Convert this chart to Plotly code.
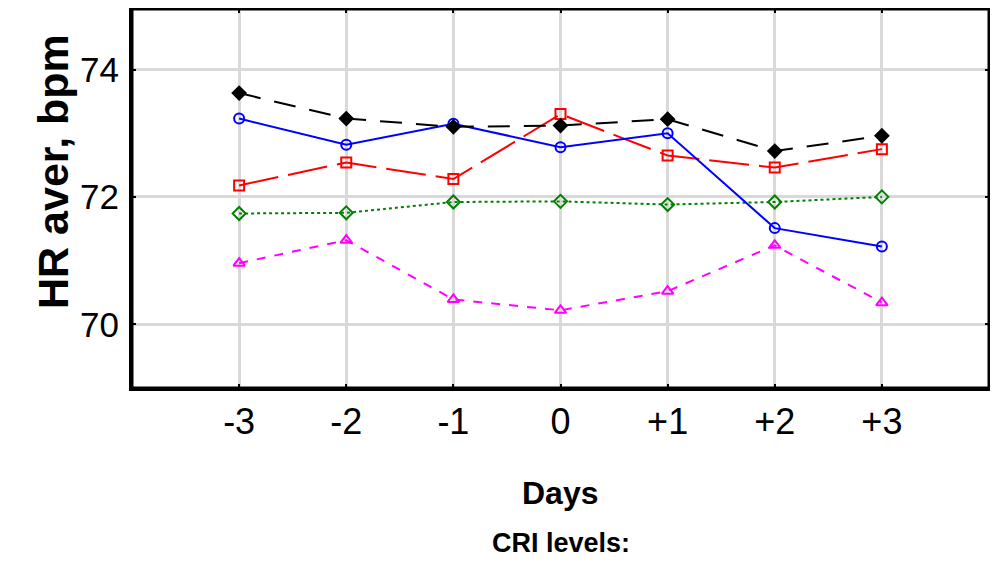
import plotly.graph_objects as go

days = [-3, -2, -1, 0, 1, 2, 3]
day_labels = ["-3", "-2", "-1", "0", "+1", "+2", "+3"]

hr_black = [73.63, 73.23, 73.10, 73.12, 73.22, 72.72, 72.96]
hr_blue = [73.23, 72.82, 73.15, 72.78, 73.00, 71.51, 71.22]
hr_red = [72.18, 72.54, 72.28, 73.30, 72.65, 72.46, 72.75]
hr_green = [71.74, 71.75, 71.92, 71.93, 71.88, 71.92, 72.00]
hr_magenta = [70.96, 71.32, 70.39, 70.22, 70.52, 71.24, 70.34]

y_ticks = [70, 72, 74]

sans = "Liberation Sans, Arial, sans-serif"

fig = go.Figure()

series = [
    (hr_green, "#008000", "dot", "diamond-open", 10),
    (hr_magenta, "#ff00ff", "9px,9px", "triangle-up-open", 10),
    (hr_red, "#ff0000", "40px,10px", "square-open", 10),
    (hr_blue, "#0000ff", "solid", "circle-open", 10),
    (hr_black, "#000000", "22px,14px", "diamond", 10),
]
for vals, col, dash, sym, size in series:
    fig.add_trace(go.Scatter(
        x=days, y=vals, mode="lines+markers",
        line=dict(color=col, width=2, dash=dash),
        marker=dict(symbol=sym, size=size, color=col, line=dict(color=col, width=2)),
        showlegend=False,
    ))

fig.update_layout(
    width=982, height=554,
    margin=dict(l=124, r=1, t=1, b=174),
    paper_bgcolor="white", plot_bgcolor="white",
    xaxis=dict(
        range=[-4, 4], tickvals=days, ticktext=day_labels,
        showgrid=True, gridcolor="#d9d9d9", gridwidth=3,
        showline=True, linecolor="black", linewidth=3, mirror="ticks",
        ticks="inside", ticklen=4, tickwidth=2, tickcolor="black",
        tickfont=dict(family=sans, size=36, color="black"),
        automargin=False, zeroline=False,
    ),
    yaxis=dict(
        range=[69, 74.95], tickvals=y_ticks, ticktext=[str(v) for v in y_ticks],
        showgrid=True, gridcolor="#d9d9d9", gridwidth=3,
        showline=True, linecolor="black", linewidth=3, mirror="ticks",
        ticks="inside", ticklen=4, tickwidth=2, tickcolor="black",
        tickfont=dict(family=sans, size=35, color="black"),
        ticklabelstandoff=3,
        automargin=False, zeroline=False,
    ),
    shapes=[dict(type="rect", xref="paper", yref="paper", x0=0, x1=1, y0=0, y1=1,
                 line=dict(color="black", width=3), fillcolor="rgba(0,0,0,0)", layer="above")],
    annotations=[
        dict(text="<b>HR aver, bpm</b>", xref="paper", yref="paper", x=0, y=0.57,
             xshift=-79, xanchor="center", yanchor="middle", textangle=-90, showarrow=False,
             font=dict(family=sans, size=43, color="black")),
        dict(text="<b>Days</b>", xref="paper", yref="paper", x=0.5, y=0,
             yshift=-105, xanchor="center", yanchor="middle", showarrow=False,
             font=dict(family=sans, size=32, color="black")),
        dict(text="<b>CRI levels:</b>", xref="paper", yref="paper", x=0.5, y=0,
             yshift=-155, xanchor="center", yanchor="middle", showarrow=False,
             font=dict(family=sans, size=27, color="black")),
    ],
)

fig.write_html("out.html")
